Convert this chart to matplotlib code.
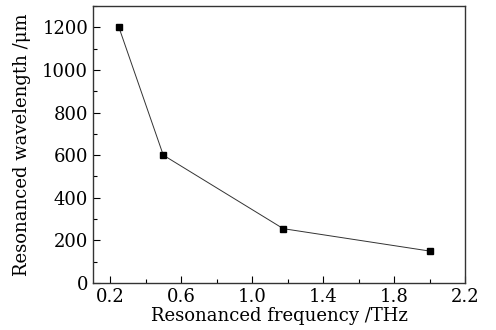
import matplotlib
matplotlib.use("Agg")
import matplotlib.pyplot as plt
from matplotlib.ticker import MultipleLocator

# resonant frequency (THz) vs resonant wavelength (um)
freq_thz = [0.25, 0.5, 1.176, 2.0]
wavelength_um = [1200, 600, 255, 150]

plt.rcParams['font.family'] = ['DejaVu Serif']

fig = plt.figure(figsize=(4.96, 3.30), dpi=100)
ax = fig.add_axes([93 / 496, 1 - 283 / 330, (465 - 93) / 496, (283 - 6) / 330])

ax.plot(freq_thz, wavelength_um, color="#333333", lw=0.7,
        marker="s", ms=4.5, mfc="black", mec="black")

ax.set_xlim(0.104, 2.2)
ax.set_ylim(0, 1300)
ax.xaxis.set_major_locator(MultipleLocator(0.4))
ax.xaxis.set_minor_locator(MultipleLocator(0.2))
ax.yaxis.set_major_locator(MultipleLocator(200))
ax.yaxis.set_minor_locator(MultipleLocator(100))
ax.set_xticks([0.2, 0.6, 1.0, 1.4, 1.8, 2.2])
ax.set_xticklabels(["0.2", "0.6", "1.0", "1.4", "1.8", "2.2"])

ax.tick_params(which="both", direction="in", top=False, right=False, labelsize=13)
ax.tick_params(which="major", length=5, width=0.8)
ax.tick_params(which="minor", length=3, width=0.8)
for s in ax.spines.values():
    s.set_linewidth(1.0)
    s.set_color("#333333")

ax.set_xlabel("Resonanced frequency /THz", fontsize=13, labelpad=1)
ax.set_ylabel("Resonanced wavelength /\u03bcm", fontsize=13, labelpad=8)

fig.savefig("out.png", dpi=100)
